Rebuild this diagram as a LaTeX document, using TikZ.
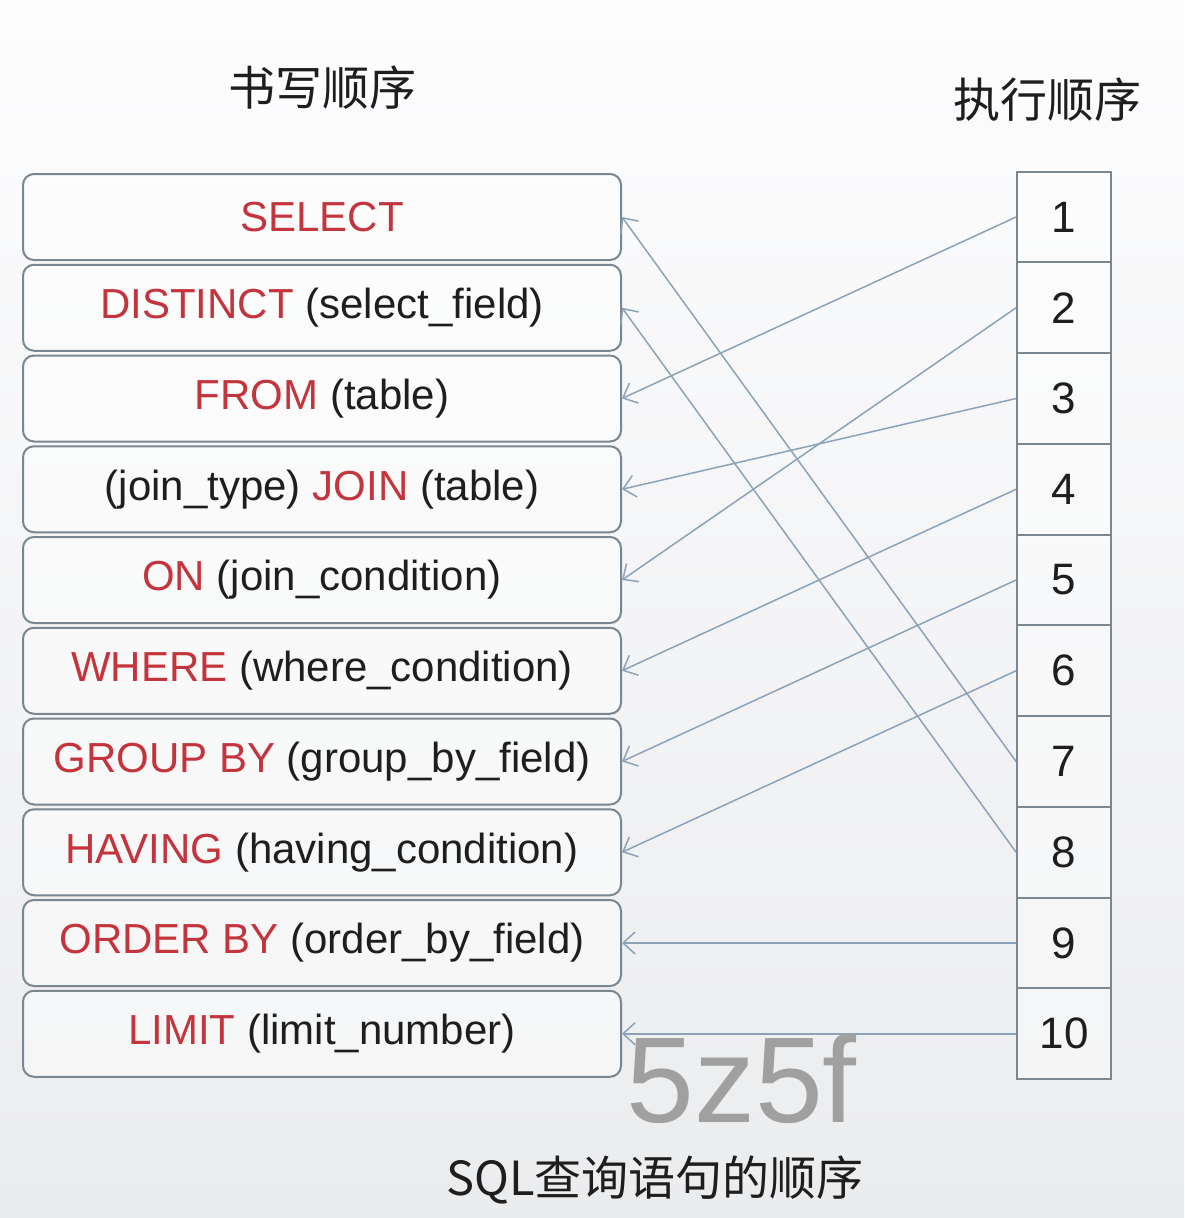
\documentclass[tikz,border=0pt]{standalone}
\usepackage{fontspec}
\setmainfont{Liberation Sans}
\newfontfamily\cjk{Noto Sans CJK SC}
\usetikzlibrary{arrows.meta}
\definecolor{kw}{RGB}{196,52,60}
\definecolor{txt}{RGB}{30,30,30}
\definecolor{edgecol}{RGB}{122,134,144}
\definecolor{conncol}{RGB}{140,162,184}
\definecolor{wm}{RGB}{160,160,160}
\definecolor{bgtop}{RGB}{253,253,254}
\definecolor{bgmid}{RGB}{246,247,248}
\definecolor{bgbot}{RGB}{235,236,238}
\begin{document}
\begin{tikzpicture}[x=1pt,y=-1pt,
  sqlbox/.style={draw=edgecol, line width=2pt, rounded corners=11pt, fill=white, fill opacity=0.5, text opacity=1,
    minimum width=598pt, minimum height=86pt, inner sep=0pt, font=\fontsize{42}{50}\selectfont, text=txt},
  cell/.style={draw=edgecol, line width=1.8pt, minimum width=94pt, minimum height=90.75pt, inner sep=0pt,
    font=\fontsize{44}{52}\selectfont, text=txt, fill=white, fill opacity=0.45, text opacity=1},
  conn/.style={draw=conncol, line width=1.5pt, -{Straight Barb[length=12pt,width=22pt]}},
  title/.style={font=\cjk\fontsize{47}{54}\selectfont, text=txt, inner sep=0pt},
  kwd/.style={text=kw}]
\useasboundingbox (0,0) rectangle (1184,1218);
\shade[top color=bgtop, middle color=bgmid, bottom color=bgbot] (0,0) rectangle (1184,1218);

\node[title] (t1) at (322,88) {书写顺序};
\node[title] (t2) at (1047,100) {执行顺序};
\node[title] (t3) at (655,1180) {SQL查询语句的顺序};

\node[sqlbox] (b1)  at (322,217)     {\textcolor{kw}{SELECT}};
\node[sqlbox] (b2)  at (322,307.75)  {\textcolor{kw}{DISTINCT} (select\_field)};
\node[sqlbox] (b3)  at (322,398.5)   {\textcolor{kw}{FROM} (table)};
\node[sqlbox] (b4)  at (322,489.25)  {(join\_type) \textcolor{kw}{JOIN} (table)};
\node[sqlbox] (b5)  at (322,580)     {\textcolor{kw}{ON} (join\_condition)};
\node[sqlbox] (b6)  at (322,670.75)  {\textcolor{kw}{WHERE} (where\_condition)};
\node[sqlbox] (b7)  at (322,761.5)   {\textcolor{kw}{GROUP BY} (group\_by\_field)};
\node[sqlbox] (b8)  at (322,852.25)  {\textcolor{kw}{HAVING} (having\_condition)};
\node[sqlbox] (b9)  at (322,943)     {\textcolor{kw}{ORDER BY} (order\_by\_field)};
\node[sqlbox] (b10) at (322,1033.75) {\textcolor{kw}{LIMIT} (limit\_number)};

\node[cell] (n1)  at (1064,217)     {1};
\node[cell] (n2)  at (1064,307.75)  {2};
\node[cell] (n3)  at (1064,398.5)   {3};
\node[cell] (n4)  at (1064,489.25)  {4};
\node[cell] (n5)  at (1064,580)     {5};
\node[cell] (n6)  at (1064,670.75)  {6};
\node[cell] (n7)  at (1064,761.5)   {7};
\node[cell] (n8)  at (1064,852.25)  {8};
\node[cell] (n9)  at (1064,943)     {9};
\node[cell] (n10) at (1064,1033.75) {10};

\draw[conn] (n1.west) -- (b3.east);
\draw[conn] (n2.west) -- (b5.east);
\draw[conn] (n3.west) -- (b4.east);
\draw[conn] (n4.west) -- (b6.east);
\draw[conn] (n5.west) -- (b7.east);
\draw[conn] (n6.west) -- (b8.east);
\draw[conn] (n7.west) -- (b1.east);
\draw[conn] (n8.west) -- (b2.east);
\draw[conn] (n9.west) -- (b9.east);
\draw[conn] (n10.west) -- (b10.east);

\node[anchor=base west, inner sep=0pt, text=wm, font=\fontsize{122}{130}\selectfont] (wmark) at (626,1122) {5z5f};
\end{tikzpicture}
\end{document}
